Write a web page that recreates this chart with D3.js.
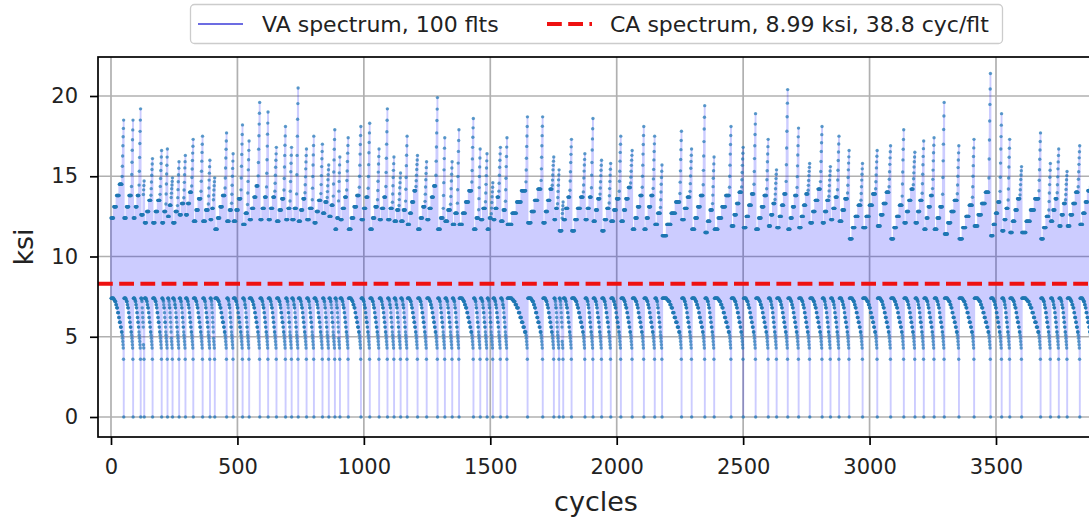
<!DOCTYPE html>
<html lang="en">
<head>
    <meta charset="UTF-8">
    <title>VA vs CA spectrum</title>

    <!-- Load d3.js -->
    <script src="https://d3js.org/d3.v7.min.js"></script>

    <style>
        body { margin: 0; background: #fff; }
        text { font-family: "DejaVu Sans", sans-serif; fill: #222; }
    </style>
</head>
<body>

    <div id="spectrum_chart"></div>

    <script>

        // cycle at which each flight reaches its max peak and drops back to ground (0 ksi)
        var flightEnd = [
            51, 88, 118, 132, 165, 201, 224, 244, 270, 295, 326, 363, 392, 411, 458, 484, 521, 547, 589, 622,
            655, 691, 715, 741, 774, 803, 837, 862, 886, 906, 939, 989, 1024, 1061, 1094, 1120, 1146, 1172, 1213, 1249,
            1292, 1321, 1350, 1377, 1434, 1461, 1488, 1511, 1541, 1567, 1648, 1708, 1752, 1773, 1789, 1822, 1875, 1907, 1941, 1977,
            2017, 2062, 2108, 2151, 2180, 2257, 2297, 2349, 2386, 2453, 2501, 2550, 2600, 2633, 2677, 2720, 2764, 2813, 2846, 2880,
            2920, 2973, 3031, 3084, 3136, 3180, 3215, 3256, 3296, 3354, 3414, 3479, 3523, 3555, 3602, 3677, 3716, 3749, 3782, 3832,
            3880
        ];

        // highest peak of each flight (ksi)
        var flightMax = [
            18.5, 18.5, 19.2, 14.7, 16.1, 16.6, 16.7, 14.9, 15.9, 16.3, 17.3, 17.5, 16.0, 14.9, 17.7, 16.4, 18.2, 17.2, 19.6, 19.0,
            16.8, 18.1, 16.8, 20.5, 16.7, 17.5, 17.0, 15.7, 17.9, 16.2, 17.4, 18.1, 18.3, 16.7, 19.2, 16.2, 15.2, 17.5, 16.3, 15.9,
            19.9, 17.4, 15.9, 17.9, 18.6, 16.7, 16.4, 14.6, 16.8, 17.4, 18.7, 18.7, 16.2, 15.4, 13.4, 17.3, 16.4, 18.6, 16.0, 15.8,
            17.5, 16.6, 18.1, 17.5, 15.7, 17.8, 16.7, 19.4, 16.2, 18.1, 16.8, 18.9, 17.3, 15.4, 20.4, 18.0, 15.8, 18.1, 15.6, 17.5,
            16.6, 15.8, 16.6, 16.9, 17.9, 16.5, 17.2, 17.4, 19.6, 16.9, 17.3, 21.4, 18.9, 17.3, 15.6, 17.7, 15.8, 16.7, 15.3, 16.9,
            15.0
        ];

        // lowest repeated (cruise) peak level of each flight (ksi)
        var flightCruise = [
            12.4, 12.4, 12.4, 12.6, 12.1, 12.1, 12.1, 12.5, 12.1, 12.6, 12.6, 12.2, 12.2, 12.3, 11.7, 12.2, 12.2, 12.0, 12.3, 12.3,
            12.3, 12.2, 12.3, 12.3, 12.2, 12.3, 12.1, 12.7, 12.5, 11.7, 12.3, 11.7, 12.3, 11.7, 12.3, 12.3, 12.2, 12.2, 12.0, 11.7,
            12.3, 11.7, 12.2, 12.0, 12.0, 11.7, 12.3, 11.7, 12.3, 12.2, 12.0, 12.1, 12.1, 12.3, 11.6, 12.3, 11.6, 12.3, 12.2, 11.6,
            12.2, 12.2, 11.7, 11.7, 12.0, 11.3, 12.3, 11.7, 11.5, 11.7, 11.9, 11.8, 11.7, 11.9, 11.8, 11.7, 11.8, 12.1, 12.1, 12.3,
            12.2, 11.1, 11.8, 11.9, 11.1, 12.1, 12.1, 11.7, 11.7, 11.4, 11.1, 11.9, 11.3, 11.6, 11.5, 11.5, 11.1, 12.2, 11.9, 11.9,
            12.0
        ];

        // shape of one flight
        var dashStep = 0.7;            // gap between two cruise peak levels
        var stepLen = 11;              // cycles per cruise level
        var maxSteps = 4;
        var rampShape = [0.12, 0.28, 0.44, 0.6, 0.74, 0.87, 1.0];   // climb to the max peak
        var valleyArc = [7.4, 7.4, 7.4, 7.3, 7.2, 7.0, 6.8, 6.5, 6.2, 5.9, 5.6, 5.3];
        var rampValleys = [5.1, 4.9, 4.7, 4.5, 4.3, 3.6];

        var caLevel = 8.3;

        var xTicks = [0, 500, 1000, 1500, 2000, 2500, 3000, 3500];
        var yTicks = [0, 5, 10, 15, 20];

        var legendLabels = ["VA spectrum, 100 flts", "CA spectrum, 8.99 ksi, 38.8 cyc/flt"];

        // build the turning points, flight after flight
        function build_series() {
            var pts = [];
            var s = 0;
            flightEnd.forEach(function(e, f) {
                var n = e - s;
                var r = Math.min(rampShape.length, Math.max(2, Math.floor(n / 3)));
                var d = n - r;
                var c = flightCruise[f];
                var m = flightMax[f];
                var steps = Math.min(maxSteps, Math.max(1, Math.ceil(d / stepLen)));
                var top = c;
                for (let k = 0; k < d; k++) {
                    top = c + dashStep * Math.floor(k / d * steps);
                    pts.push({cyc: s + k, ksi: top});
                    pts.push({cyc: s + k + 0.5, ksi: valleyArc[Math.floor(k / d * valleyArc.length)]});
                }
                for (let j = 0; j < r; j++) {
                    var frac = rampShape[rampShape.length - r + j];
                    pts.push({cyc: s + d + j, ksi: top + (m - top) * frac});
                    var v = (j < r - 1) ? rampValleys[rampValleys.length - (r - 1) + j] : 0;
                    pts.push({cyc: s + d + j + 0.5, ksi: v});
                }
                s = e;
            });
            return pts;
        }

        function draw_chart() {

            var data = build_series();

            var W = 1089, H = 518;
            var plot = {left: 98, right: 1094, top: 57, bottom: 437};

            var svg = d3.select("#spectrum_chart")
                .append("svg")
                    .attr("width", W)
                    .attr("height", H);

            // scales
            var x = d3.scaleLinear().domain([0, 3500]).range([111, 996]);
            var y = d3.scaleLinear().domain([0, 20]).range([417, 96]);

            svg.append("clipPath")
                .attr("id", "plot-clip")
                .append("rect")
                    .attr("x", plot.left)
                    .attr("y", plot.top)
                    .attr("width", plot.right - plot.left)
                    .attr("height", plot.bottom - plot.top);

            // grid
            var grid = svg.append("g");
            grid.selectAll(".gx")
                .data(xTicks)
                .enter()
                .append("line")
                    .attr("x1", function(d) { return x(d); })
                    .attr("x2", function(d) { return x(d); })
                    .attr("y1", plot.top)
                    .attr("y2", plot.bottom)
                    .attr("stroke", "#b0b0b0")
                    .attr("stroke-width", 1.7);
            grid.selectAll(".gy")
                .data(yTicks)
                .enter()
                .append("line")
                    .attr("x1", plot.left)
                    .attr("x2", plot.right)
                    .attr("y1", function(d) { return y(d); })
                    .attr("y2", function(d) { return y(d); })
                    .attr("stroke", "#b0b0b0")
                    .attr("stroke-width", 1.7);

            var body = svg.append("g").attr("clip-path", "url(#plot-clip)");

            // VA spectrum line
            var line = d3.line()
                .x(function(d) { return x(d.cyc); })
                .y(function(d) { return y(d.ksi); });

            body.append("path")
                .datum(data)
                .attr("d", line)
                .attr("fill", "none")
                .attr("stroke", "#0000ff")
                .attr("stroke-opacity", 0.2)
                .attr("stroke-width", 1.9)
                .attr("stroke-linejoin", "round");

            // turning point markers
            body.selectAll("circle")
                .data(data)
                .enter()
                .append("circle")
                    .attr("cx", function(d) { return x(d.cyc); })
                    .attr("cy", function(d) { return y(d.ksi); })
                    .attr("r", 1.7)
                    .attr("fill", "#1f77b4")
                    .attr("fill-opacity", 0.7);

            // CA spectrum level
            body.append("line")
                .attr("x1", plot.left)
                .attr("x2", plot.right)
                .attr("y1", y(caLevel))
                .attr("y2", y(caLevel))
                .attr("stroke", "#ee1111")
                .attr("stroke-width", 4)
                .attr("stroke-dasharray", "14.8,6.4");

            // X axis
            var xAxis = svg.append("g")
                .attr("transform", "translate(0," + plot.bottom + ")")
                .call(d3.axisBottom(x).tickValues(xTicks).tickFormat(d3.format("d"))
                    .tickSize(8).tickSizeOuter(0).tickPadding(14));
            xAxis.select(".domain").remove();
            xAxis.selectAll("line").attr("stroke", "#000").attr("stroke-width", 1.7);
            xAxis.selectAll("text").style("font-size", "21px").attr("fill", "#222");

            // Y axis
            var yAxis = svg.append("g")
                .attr("transform", "translate(" + plot.left + ",0)")
                .call(d3.axisLeft(y).tickValues(yTicks).tickFormat(d3.format("d"))
                    .tickSize(8).tickSizeOuter(0).tickPadding(12));
            yAxis.select(".domain").remove();
            yAxis.selectAll("line").attr("stroke", "#000").attr("stroke-width", 1.7);
            yAxis.selectAll("text").style("font-size", "21px").attr("fill", "#222");

            // spines
            svg.append("rect")
                .attr("x", plot.left)
                .attr("y", plot.top)
                .attr("width", plot.right - plot.left)
                .attr("height", plot.bottom - plot.top)
                .attr("fill", "none")
                .attr("stroke", "#000")
                .attr("stroke-width", 1.7);

            // axis labels
            svg.append("text")
                .attr("x", (plot.left + plot.right) / 2)
                .attr("y", 511)
                .attr("text-anchor", "middle")
                .style("font-size", "27px")
                .text("cycles");

            svg.append("text")
                .attr("transform", "translate(33," + ((plot.top + plot.bottom) / 2) + ")rotate(-90)")
                .attr("text-anchor", "middle")
                .style("font-size", "27px")
                .text("ksi");

            // legend
            var legend = svg.append("g");
            legend.append("rect")
                .attr("x", 190.5)
                .attr("y", 4.5)
                .attr("width", 812)
                .attr("height", 39)
                .attr("rx", 4)
                .attr("fill", "#fff")
                .attr("fill-opacity", 0.85)
                .attr("stroke", "#cccccc")
                .attr("stroke-width", 1.3);
            legend.append("line")
                .attr("x1", 198).attr("x2", 243)
                .attr("y1", 24).attr("y2", 24)
                .attr("stroke", "#3b3bd8")
                .attr("stroke-width", 1.6);
            legend.append("text")
                .attr("x", 262)
                .attr("y", 32)
                .style("font-size", "22px")
                .text(legendLabels[0]);
            legend.append("line")
                .attr("x1", 547).attr("x2", 592)
                .attr("y1", 24).attr("y2", 24)
                .attr("stroke", "#ee1111")
                .attr("stroke-width", 4)
                .attr("stroke-dasharray", "14.8,6.4");
            legend.append("text")
                .attr("x", 610)
                .attr("y", 32)
                .style("font-size", "22px")
                .text(legendLabels[1]);
        }

        draw_chart();

    </script>

</body>
</html>
